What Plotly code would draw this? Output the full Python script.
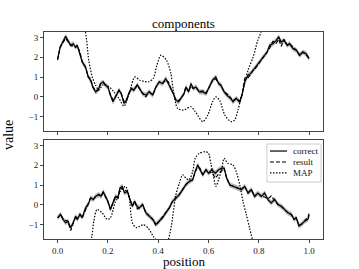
import plotly.graph_objects as go

# ---------------- data ----------------
top_pos = [0, 0.01, 0.032, 0.052, 0.062, 0.072, 0.078, 0.089, 0.098, 0.111, 0.122, 0.131, 0.14, 0.151,
           0.161, 0.171, 0.181, 0.19, 0.2, 0.21, 0.22, 0.23, 0.244, 0.253, 0.264, 0.274, 0.283, 0.294,
           0.303, 0.317, 0.325, 0.338, 0.351, 0.364, 0.378, 0.391, 0.404, 0.417, 0.43, 0.441, 0.45,
           0.46, 0.47, 0.481, 0.49, 0.503, 0.51, 0.521, 0.53, 0.539, 0.55, 0.563, 0.577, 0.59, 0.603,
           0.616, 0.629, 0.64, 0.649, 0.662, 0.676, 0.69, 0.697, 0.71, 0.724, 0.733, 0.744, 0.757,
           0.767, 0.777, 0.79, 0.803, 0.816, 0.823, 0.833, 0.843, 0.856, 0.869, 0.879, 0.889, 0.9,
           0.913, 0.922, 0.936, 0.949, 0.962, 0.975, 0.988, 1.0]
top_correct = [1.88, 2.5, 3.05, 2.6, 2.68, 2.5, 2.6, 2.18, 1.76, 1.5, 1.0, 0.84, 0.5, 0.25,
               0.34, 0.67, 0.75, 0.59, 0.5, 0.09, -0.25, 0.0, 0.34, 0.17, -0.33, -0.17, 0.17, 0.42,
               0.34, 0.6, 0.42, 0.17, 0.09, 0.25, 0.09, 0.5, 0.75, 0.67, 0.92, 0.67, 0.42,
               0.17, -0.17, -0.25, -0.08, 0.17, 0.5, 0.25, 0.67, 0.42, 0.5, 0.25, 0.25, 0.17, 0.5,
               0.84, 1.0, 0.67, 0.59, 0.25, 0.05, -0.1, -0.25, -0.08, -0.25, 0.09, 0.75, 1.09,
               1.17, 1.34, 1.5, 1.76, 2.0, 2.1, 2.26, 2.6, 2.68, 2.85, 3.02, 2.76, 2.85,
               2.6, 2.68, 2.43, 2.35, 2.1, 2.26, 2.18, 1.93]
top_result = [1.88, 2.5, 2.95, 2.6, 2.55, 2.5, 2.6, 2.25, 1.76, 1.5, 1.0, 0.92, 0.5, 0.3,
              0.34, 0.67, 0.75, 0.59, 0.5, 0.09, -0.15, 0.0, 0.34, 0.17, -0.25, -0.17, 0.17, 0.42,
              0.34, 0.6, 0.42, 0.17, 0.0, 0.25, 0.09, 0.5, 0.75, 0.67, 0.85, 0.75, 0.42,
              0.17, -0.17, -0.2, -0.08, 0.17, 0.5, 0.25, 0.55, 0.42, 0.5, 0.25, 0.3, 0.17, 0.5,
              0.84, 0.9, 0.67, 0.59, 0.25, 0.12, -0.1, -0.2, -0.08, -0.25, 0.09, 0.95, 0.95,
              1.17, 1.34, 1.5, 1.76, 2.0, 2.1, 2.26, 2.45, 2.8, 2.7, 2.9, 2.55, 2.9,
              2.6, 2.68, 2.5, 2.35, 2.1, 2.26, 2.1, 1.93]
top_map_pos = [0, 0.05, 0.1, 0.111, 0.124, 0.138, 0.151, 0.164, 0.18, 0.2, 0.224, 0.245, 0.264,
               0.285, 0.307, 0.327, 0.345, 0.36, 0.38, 0.395, 0.411, 0.433, 0.45, 0.46, 0.477, 0.5,
               0.53, 0.546, 0.577, 0.597, 0.616, 0.629, 0.645, 0.665, 0.689, 0.704, 0.717, 0.737,
               0.757, 0.777, 0.796, 0.81, 0.85, 0.9, 0.95, 1.0]
top_map = [6.0, 5.5, 3.6, 3.25, 1.84, 1.0, 0.59, 0.34, 0.6, 0.55, 0.25, -0.1, -0.47,
           0.2, 1.0, 0.84, 0.78, 0.75, 0.92, 1.6, 2.1, 1.84, 1.2, 0.34, -0.58, -0.67,
           -0.5, -0.72, -1.25, -0.92, -0.25, 0.0, -0.2, -0.92, -1.25, -1.17, -0.67, 0.34,
           1.34, 2.0, 2.85, 3.3, 4.5, 5.5, 6.0, 6.5]

bot_pos = [0, 0.012, 0.022, 0.032, 0.041, 0.052, 0.062, 0.072, 0.078, 0.089, 0.098, 0.111, 0.122,
           0.131, 0.142, 0.151, 0.164, 0.173, 0.181, 0.19, 0.2, 0.21, 0.221, 0.23, 0.24, 0.248,
           0.257, 0.266, 0.277, 0.287, 0.297, 0.306, 0.317, 0.325, 0.338, 0.351, 0.364, 0.378,
           0.391, 0.404, 0.417, 0.43, 0.444, 0.457, 0.47, 0.484, 0.497, 0.51, 0.523, 0.537, 0.547,
           0.557, 0.566, 0.577, 0.59, 0.6, 0.613, 0.627, 0.64, 0.653, 0.662, 0.672, 0.685, 0.697,
           0.71, 0.73, 0.744, 0.757, 0.77, 0.783, 0.796, 0.81, 0.823, 0.836, 0.849, 0.863, 0.876,
           0.889, 0.903, 0.916, 0.929, 0.94, 0.949, 0.959, 0.969, 0.982, 0.995, 1.0]
bot_correct = [-0.65, -0.48, -0.73, -0.9, -0.82, -1.15, -0.9, -0.57, -0.73, -0.48, -0.65, -0.15, 0.02,
               0.35, 0.27, 0.43, 0.52, 0.43, 0.68, 0.43, 0.18, -0.23, 0.1, 0.43, 0.35, 0.85,
               0.93, 0.6, 0.68, 0.27, -0.07, 0.18, -0.1, -0.15, 0.02, -0.4, -0.57, -0.73,
               -0.98, -0.82, -0.65, -0.4, -0.15, 0.18, 0.35, 0.52, 0.77, 1.02, 1.18, 1.27, 1.68,
               2.02, 1.77, 1.52, 1.77, 1.6, 1.77, 1.6, 1.77, 1.85, 1.85, 1.35, 1.0, 0.95,
               0.88, 0.77, 0.93, 0.6, 0.77, 0.43, 0.6, 0.43, 0.6, 0.27, 0.1, 0.27, 0.02,
               -0.07, -0.23, -0.4, -0.48, -0.73, -0.65, -1.07, -0.98, -0.82, -0.73, -0.52]
bot_result = [-0.65, -0.48, -0.73, -0.8, -0.82, -1.3, -0.9, -0.57, -0.73, -0.48, -0.65, -0.25, 0.02,
              0.35, 0.27, 0.43, 0.52, 0.43, 0.6, 0.43, 0.18, -0.23, 0.1, 0.43, 0.35, 0.85,
              0.85, 0.75, 0.68, 0.27, -0.07, 0.18, -0.2, -0.15, 0.02, -0.4, -0.57, -0.73,
              -1.05, -0.82, -0.65, -0.4, -0.15, 0.18, 0.35, 0.52, 0.77, 1.02, 1.18, 1.27, 1.68,
              1.9, 1.85, 1.52, 1.77, 1.6, 1.65, 1.35, 1.55, 1.75, 1.85, 1.35, 1.0, 0.95,
              0.88, 0.77, 0.93, 0.6, 0.77, 0.43, 0.6, 0.43, 0.4, 0.3, 0.45, 0.2, 0.02,
              -0.07, -0.23, -0.4, -0.48, -0.73, -0.65, -1.0, -0.98, -0.82, -0.6, -0.45]
bot_map_pos = [0, 0.1, 0.135, 0.144, 0.157, 0.177, 0.197, 0.21, 0.23, 0.25, 0.27, 0.283, 0.298,
               0.314, 0.34, 0.36, 0.38, 0.39, 0.415, 0.44, 0.453, 0.47, 0.484, 0.497, 0.51, 0.523,
               0.537, 0.547, 0.563, 0.59, 0.6, 0.609, 0.619, 0.629, 0.64, 0.653, 0.662, 0.676,
               0.697, 0.71, 0.724, 0.737, 0.75, 0.763, 0.775, 0.85, 1.0]
bot_map = [-4.0, -3.0, -1.65, -0.82, -0.23, -0.4, -0.73, -0.65, 0.18, 0.68, 0.93, 0.52, -0.92,
           -1.15, -1.0, -1.17, -1.58, -1.75, -2.3, -1.75, -1.0, 0.5, 1.1, 1.52, 1.35, 1.27,
           1.68, 2.35, 2.6, 2.68, 2.6, 2.1, 1.52, 0.93, 1.27, 1.85, 2.35, 2.1,
           2.02, 1.68, 1.02, 0.18, -0.48, -1.15, -1.75, -4.0, -6.0]

band = 0.13
x_ticks = [0.0, 0.2, 0.4, 0.6, 0.8, 1.0]
x_ticklabels = ["0.0", "0.2", "0.4", "0.6", "0.8", "1.0"]
y_ticks = [-1, 0, 1, 2, 3]
legend_names = ["correct", "result", "MAP"]
legend_dashes = ["solid", "4px,2px", "1.5px,1.5px"]

FONT = "Liberation Serif"
LW = 1.2

fig = go.Figure()


def add_panel(pos, correct, result, mpos, mval, xa, ya):
    upper = [v + band for v in correct]
    lower = [v - band for v in correct]
    fig.add_trace(go.Scatter(x=pos, y=upper, mode="lines", line=dict(width=0, color="rgba(0,0,0,0)"),
                             showlegend=False, hoverinfo="skip", xaxis=xa, yaxis=ya))
    fig.add_trace(go.Scatter(x=pos, y=lower, mode="lines", line=dict(width=0, color="rgba(0,0,0,0)"),
                             fill="tonexty", fillcolor="rgba(0,0,0,0.28)",
                             showlegend=False, hoverinfo="skip", xaxis=xa, yaxis=ya))
    fig.add_trace(go.Scatter(x=pos, y=correct, mode="lines", name=legend_names[0],
                             line=dict(color="black", width=LW, dash=legend_dashes[0]),
                             showlegend=False, xaxis=xa, yaxis=ya))
    fig.add_trace(go.Scatter(x=pos, y=result, mode="lines", name=legend_names[1],
                             line=dict(color="black", width=LW, dash=legend_dashes[1]),
                             showlegend=False, xaxis=xa, yaxis=ya))
    fig.add_trace(go.Scatter(x=mpos, y=mval, mode="lines", name=legend_names[2],
                             line=dict(color="black", width=LW, dash=legend_dashes[2],
                                       shape="spline", smoothing=0.8),
                             showlegend=False, xaxis=xa, yaxis=ya))


add_panel(top_pos, top_correct, top_result, top_map_pos, top_map, "x2", "y2")
add_panel(bot_pos, bot_correct, bot_result, bot_map_pos, bot_map, "x", "y")

axis_common = dict(showline=True, mirror=True, linecolor="#444", linewidth=1,
                   ticks="outside", ticklen=3, tickcolor="#444", tickwidth=1,
                   showgrid=False, zeroline=False,
                   tickfont=dict(family=FONT, size=9, color="#222"))

fig.update_layout(
    width=359, height=269,
    margin=dict(l=44, r=36, t=32, b=30),
    paper_bgcolor="white", plot_bgcolor="white",
    font=dict(family=FONT, color="black"),
    xaxis=dict(range=[-0.054, 1.055], tickvals=x_ticks, ticktext=x_ticklabels,
               anchor="y", **axis_common),
    xaxis2=dict(range=[-0.054, 1.055], tickvals=x_ticks, showticklabels=False,
                anchor="y2", matches="x", **axis_common),
    yaxis=dict(domain=[0, 0.478], range=[-1.72, 3.27], tickvals=y_ticks, anchor="x", **axis_common),
    yaxis2=dict(domain=[0.522, 1], range=[-1.72, 3.27], tickvals=y_ticks, anchor="x2", **axis_common),
    showlegend=False,
)

# ---- legend box drawn by hand (bottom panel, top-right) ----
fig.add_shape(type="rect", xref="paper", yref="paper", x0=0.799, x1=0.993, y0=0.275, y1=0.459,
              fillcolor="white", line=dict(color="#cccccc", width=1), layer="above")
legend_y = [0.425, 0.372, 0.319]
for name, dash, ly in zip(legend_names, legend_dashes, legend_y):
    fig.add_shape(type="line", xref="paper", yref="paper", x0=0.810, x1=0.871, y0=ly, y1=ly,
                  line=dict(color="black", width=LW, dash=dash), layer="above")
    fig.add_annotation(text=name, xref="paper", yref="paper", x=0.885, y=ly,
                       xanchor="left", yanchor="middle", showarrow=False,
                       font=dict(family=FONT, size=9, color="#111"))

fig.add_annotation(text="components", xref="paper", yref="paper", x=0.5, y=1.0,
                   xanchor="center", yanchor="bottom", yshift=-1, showarrow=False,
                   font=dict(family=FONT, size=13, color="black"))
fig.add_annotation(text="position", xref="paper", yref="paper", x=0.5, y=0,
                   xanchor="center", yanchor="top", yshift=-13, showarrow=False,
                   font=dict(family=FONT, size=13, color="black"))
fig.add_annotation(text="value", xref="paper", yref="paper", x=0, y=0.5,
                   xanchor="right", yanchor="middle", xshift=-26, textangle=-90, showarrow=False,
                   font=dict(family=FONT, size=14, color="black"))

fig.write_html("out.html", config={"displayModeBar": False},
               post_script="document.body.style.margin='0px';document.body.style.overflow='hidden';")
